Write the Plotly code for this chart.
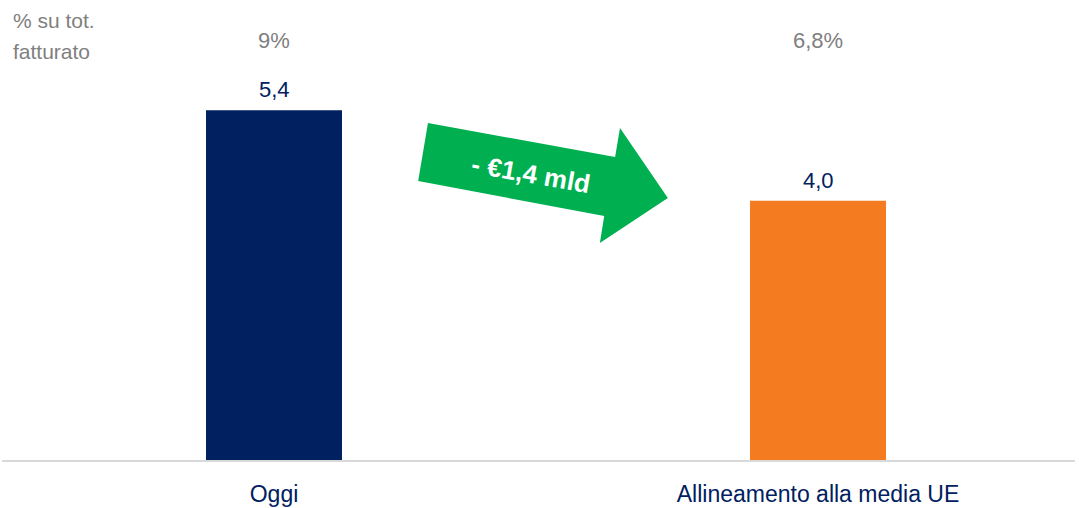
import plotly.graph_objects as go

# Data
categories = ["Oggi", "Allineamento alla media UE"]
values = [5.4, 4.0]
value_labels = ["5,4", "4,0"]
share_labels = ["9%", "6,8%"]
delta_label = "- €1,4 mld"
share_title = ["% su tot.", "fatturato"]

NAVY = "#002060"
ORANGE = "#F47B20"
GREEN = "#00B050"
GREY = "#808080"
FONT = "Liberation Sans, Arial, sans-serif"

x_pos = list(range(len(categories)))

fig = go.Figure()
fig.add_trace(go.Bar(
    x=x_pos, y=values, width=0.25,
    marker=dict(color=[NAVY, ORANGE], line=dict(width=0)),
    hoverinfo="skip",
))

# value labels above bars
for xi, v, lab in zip(x_pos, values, value_labels):
    fig.add_annotation(x=xi, y=v, text=lab, showarrow=False,
                       yanchor="bottom", yshift=6,
                       font=dict(family=FONT, size=22, color=NAVY))

# share-of-turnover labels on top row
for xi, lab in zip(x_pos, share_labels):
    fig.add_annotation(x=xi, y=0.913, yref="paper", text=lab, showarrow=False,
                       yanchor="middle", font=dict(family=FONT, size=22, color=GREY))

# row title, one annotation per line
for yy, line in zip([0.9565, 0.889], share_title):
    fig.add_annotation(x=0.008, xref="paper", y=yy, yref="paper",
                       text=line, showarrow=False, xanchor="left",
                       yanchor="middle", align="left",
                       font=dict(family=FONT, size=21, color=GREY))

# green reduction arrow between the two bars
arrow_pts = [(0.283, 5.20), (0.627, 4.676), (0.636, 5.123), (0.724, 4.043),
             (0.599, 3.349), (0.607, 3.765), (0.265, 4.306)]
path = "M " + " L ".join(f"{px},{py}" for px, py in arrow_pts) + " Z"
fig.add_shape(type="path", path=path, xref="x", yref="y",
              fillcolor=GREEN, line=dict(width=0), layer="above")
fig.add_annotation(x=0.472, y=4.42, text=f"<b>{delta_label}</b>", showarrow=False,
                   textangle=10, font=dict(family=FONT, size=26, color="white"))

fig.update_layout(
    width=1079, height=508,
    margin=dict(l=2, r=4, t=0, b=48),
    paper_bgcolor="white", plot_bgcolor="white",
    showlegend=False,
    xaxis=dict(range=[-0.5, 1.4724], tickmode="array", tickvals=x_pos,
               ticktext=categories, showgrid=False, zeroline=False,
               showline=True, linecolor="#D9D9D9", linewidth=2,
               ticks="", ticklabelstandoff=12, automargin=False,
               tickfont=dict(family=FONT, size=23, color=NAVY)),
    yaxis=dict(range=[0, 7.1], visible=False, showgrid=False, zeroline=False),
)

fig.write_html("out.html")
